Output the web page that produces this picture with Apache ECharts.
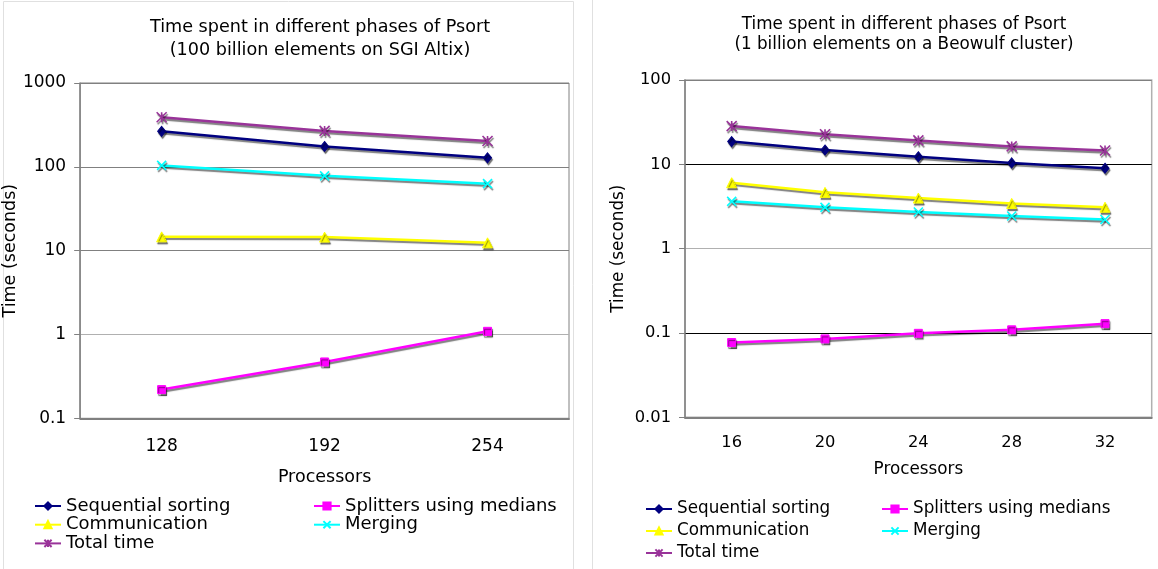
<!DOCTYPE html>
<html>
<head>
<meta charset="utf-8">
<script src="https://cdn.jsdelivr.net/npm/echarts@6/dist/echarts.min.js"></script>
<style>
  html, body { margin: 0; padding: 0; background: #fff; }
  #main { width: 1158px; height: 569px; }
</style>
</head>
<body>
<div id="main"></div>
<script>
// chart A: SGI Altix, 100 billion elements
const procsA = ['128', '192', '254']
const seqA = [265, 175, 128]
const splitA = [0.22, 0.47, 1.09]
const commA = [14.6, 14.5, 12.4]
const mergeA = [104, 78, 63]
const totalA = [390, 268, 203]

// chart B: Beowulf cluster, 1 billion elements
const procsB = ['16', '20', '24', '28', '32']
const seqB = [18.6, 14.8, 12.3, 10.4, 9.0]
const splitB = [0.077, 0.085, 0.099, 0.109, 0.129]
const commB = [6.05, 4.65, 3.98, 3.44, 3.1]
const mergeB = [3.64, 3.09, 2.72, 2.44, 2.22]
const totalB = [28.4, 22.7, 19.2, 16.3, 14.6]

const names = ['Sequential sorting', 'Splitters using medians', 'Communication', 'Merging', 'Total time']

const FONT = 'DejaVu Sans'

// marker look per series, same order as names
const looks = [
  { color: '#000080', symbol: 'diamond', size: [8, 10], bw: 1 },
  { color: '#ff00ff', symbol: 'rect', size: 8, bw: 1 },
  { color: '#ffff00', symbol: 'triangle', size: 10, bw: 1 },
  { color: '#00ffff', symbol: 'path://M0,0L10,10M10,0L0,10', size: 9, bw: 1.6 },
  { color: '#993399', symbol: 'path://M0,0L10,10M10,0L0,10M5,0L5,10', size: 10, bw: 1.6 }
]

function buildSeries(idx, sets) {
  return sets.map((d, i) => {
    const lk = looks[i]
    return {
      name: names[i],
      type: 'line',
      xAxisIndex: idx,
      yAxisIndex: idx,
      data: d,
      symbol: lk.symbol,
      symbolSize: lk.size,
      lineStyle: {
        color: lk.color, width: 2.5,
        shadowColor: 'rgba(0,0,0,0.5)', shadowOffsetX: 1, shadowOffsetY: 2, shadowBlur: 1
      },
      itemStyle: {
        color: lk.color, borderColor: lk.color, borderWidth: lk.bw,
        shadowColor: 'rgba(0,0,0,0.5)', shadowOffsetX: 1, shadowOffsetY: 2, shadowBlur: 1
      },
      z: 2 + i
    }
  })
}

function yAxis(idx, min, max, lineColors, fs, nameGap) {
  return {
    type: 'log', logBase: 10, gridIndex: idx, min: min, max: max,
    name: 'Time (seconds)', nameLocation: 'middle', nameGap: nameGap,
    nameTextStyle: { fontFamily: FONT, fontSize: fs, color: '#000' },
    axisLine: { show: true, lineStyle: { color: '#808080', width: 1.5 } },
    axisTick: { show: true, length: 6, lineStyle: { color: '#808080' } },
    minorTick: { show: false },
    axisLabel: {
      fontFamily: FONT, fontSize: fs - 0.5, color: '#000', margin: 14,
      formatter: v => String(+(+v).toPrecision(3))
    },
    splitLine: {
      show: true, showMinLine: true, showMaxLine: true,
      lineStyle: { color: lineColors, width: 1.2 }
    }
  }
}

function xAxis(idx, cats, fs, margin, nameGap) {
  return {
    type: 'category', gridIndex: idx, data: cats, boundaryGap: true,
    name: 'Processors', nameLocation: 'middle', nameGap: nameGap,
    nameTextStyle: { fontFamily: FONT, fontSize: fs, color: '#000' },
    axisLine: { lineStyle: { color: '#808080', width: 2 } },
    axisTick: { show: false },
    axisLabel: { fontFamily: FONT, fontSize: fs - 0.5, color: '#000', margin: margin },
    splitLine: { show: false }
  }
}

function legend(x, y, items, fs, lh, gap) {
  return {
    orient: 'vertical', left: x, top: y, padding: 0,
    itemWidth: 26, itemHeight: 9, itemGap: gap,
    data: items,
    selectedMode: false,
    textStyle: { fontFamily: FONT, fontSize: fs, color: '#000', lineHeight: lh }
  }
}

const chart = echarts.init(document.getElementById('main'))

chart.setOption({
  animation: false,
  backgroundColor: '#fff',
  graphic: [
    { type: 'rect', shape: { x: 3.5, y: 1.5, width: 570, height: 600 }, style: { fill: 'none', stroke: '#e0e0e0', lineWidth: 1 }, z: -1 },
    { type: 'line', shape: { x1: 592.5, y1: 0, x2: 592.5, y2: 569 }, style: { stroke: '#e0e0e0', lineWidth: 1 }, z: -1 }
  ],
  title: [
    {
      text: 'Time spent in different phases of Psort\n(100 billion elements on SGI Altix)',
      left: 320, top: 16, padding: 0, textAlign: 'center',
      textStyle: { fontFamily: FONT, fontSize: 17.6, fontWeight: 'normal', color: '#000', lineHeight: 23 }
    },
    {
      text: 'Time spent in different phases of Psort\n(1 billion elements on a Beowulf cluster)',
      left: 904, top: 15, padding: 0, textAlign: 'center',
      textStyle: { fontFamily: FONT, fontSize: 16.8, fontWeight: 'normal', color: '#000', lineHeight: 20 }
    }
  ],
  grid: [
    { left: 76.5, top: 83, width: 492.5, height: 335.3, show: true, borderColor: '#808080', borderWidth: 1, backgroundColor: 'transparent' },
    { left: 685, top: 80, width: 466.7, height: 337.3, show: true, borderColor: '#b0b0b0', borderWidth: 1.5, backgroundColor: 'transparent' }
  ],
  xAxis: [
    xAxis(0, procsA, 17.5, 20, 50),
    xAxis(1, procsB, 16.8, 17, 44)
  ],
  yAxis: [
    yAxis(0, 0.1, 1000, ['#808080', '#b0b0b0', '#808080', '#808080', '#808080'], 17.5, 46),
    yAxis(1, 0.01, 100, ['#808080', '#000000', '#b0b0b0', '#000000', '#808080'], 16.8, 58)
  ],
  legend: [
    legend(34, 497, ['Sequential sorting', 'Communication', 'Total time'], 18, 18, 0.7),
    legend(313, 497, ['Splitters using medians', 'Merging'], 18, 18, 0.7),
    legend(645, 499, ['Sequential sorting', 'Communication', 'Total time'], 16.8, 20, 2),
    legend(881, 499, ['Splitters using medians', 'Merging'], 16.8, 20, 2)
  ],
  series: buildSeries(0, [seqA, splitA, commA, mergeA, totalA])
    .concat(buildSeries(1, [seqB, splitB, commB, mergeB, totalB]))
})
</script>
</body>
</html>
